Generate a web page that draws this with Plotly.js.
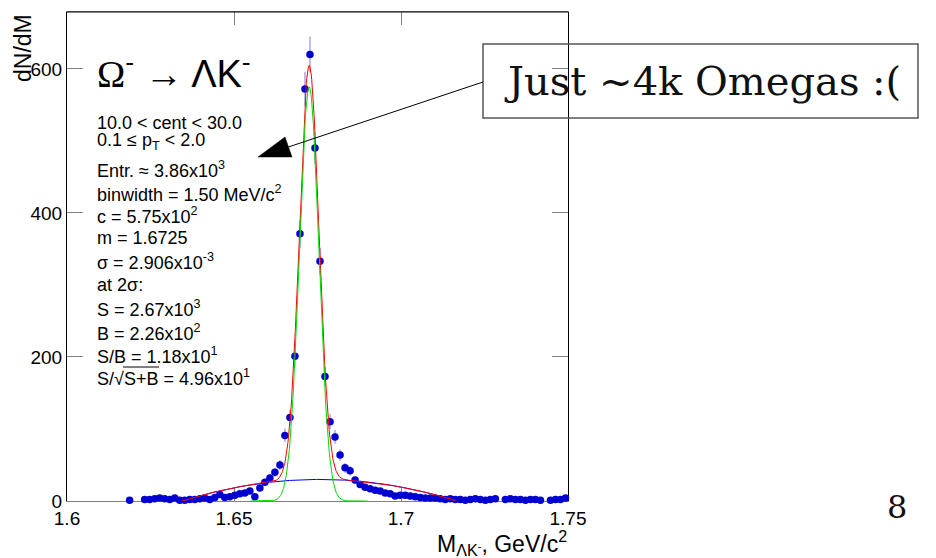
<!DOCTYPE html>
<html>
<head>
<meta charset="utf-8">
<script src="https://cdn.plot.ly/plotly-3.0.1.min.js"></script>
<style>html,body{margin:0;padding:0;background:#fff;}#chart{width:936px;height:558px;}</style>
</head>
<body>
<div id="chart"></div>
<script>
// ---- data: invariant mass histogram (bin centres, GeV/c^2) and counts ----
const massBins = [
  1.61875,
  1.62325,1.62475,1.62625,1.62775,1.62925,1.63075,1.63225,1.63375,1.63525,1.63675,
  1.63825,1.63975,1.64125,1.64275,1.64425,1.64575,1.64725,1.64875,1.65025,1.65175,
  1.65325,1.65475,1.65625,1.65775,1.65925,1.66075,1.66225,1.66375,1.66525,1.66675,
  1.66825,1.66975,1.67125,1.67275,1.67425,1.67575,1.67725,1.67875,1.68025,1.68175,
  1.68325,1.68475,1.68625,1.68775,1.68925,1.69075,1.69225,1.69375,1.69525,1.69675,
  1.69825,1.69975,1.70125,1.70275,1.70425,1.70575,1.70725,1.70875,1.71025,1.71175,
  1.71325,1.71475,1.71625,1.71775,1.71925,1.72075,1.72225,1.72375,1.72525,1.72675,
  1.72825,
  1.73125,1.73275,1.73425,1.73575,1.73725,1.73875,1.74025,1.74175,
  1.74475,1.74625,1.74775,1.74925
];
const counts = [
  1,
  2,2,3,4,3,2,4,1,1,2,
  2,3,4,2,5,9,5,6,8,10,
  11,14,6,18,26,32,40,50,91,116,
  201,371,572,620,490,333,173,110,89,64,
  46,42,29,23,19,17,15,14,11,10,
  7,8,8,7,6,5,4,4,4,3,
  2,3,2,2,1,2,3,2,1,2,
  3,
  2,3,2,2,1,2,2,1,
  1,2,2,4
];
// ---- fit results shown on the chart ----
const gausC = 575, gausM = 1.6725, gausSigma = 2.906e-3;
// background (pol2) estimated from the drawn blue curve
const bgAmp = 30, bgCentre = 1.6756, bgHalfWidth = 0.0411;

const xTickVals = [1.6, 1.65, 1.7, 1.75];
const xTickText = ['1.6', '1.65', '1.7', '1.75'];
const yTickVals = [0, 200, 400, 600];
const yTickText = ['0', '200', '400', '600'];

const titleText = "<span style=\"font-family:'Liberation Serif','DejaVu Serif',serif\">Ω</span><sup>-</sup> → ΛK<sup>-</sup>";
const statLines = [
  '10.0 &lt; cent &lt; 30.0',
  '0.1 ≤ p<sub>T</sub> &lt; 2.0',
  'Entr. ≈ 3.86x10<sup>3</sup>',
  'binwidth = 1.50 MeV/c<sup>2</sup>',
  'c = 5.75x10<sup>2</sup>',
  'm = 1.6725',
  'σ = 2.906x10<sup>-3</sup>',
  'at 2σ:',
  'S = 2.67x10<sup>3</sup>',
  'B = 2.26x10<sup>2</sup>',
  'S/B = 1.18x10<sup>1</sup>',
  'S/√S+B = 4.96x10<sup>1</sup>'
];
const noteText = 'Just ~4k Omegas :(';
const pageText = '8';
const xTitle = 'M<sub>ΛK<sup>-</sup></sub>, GeV/c<sup>2</sup>';
const yTitle = 'dN/dM';

// ---- fit curves evaluated from the fit parameters ----
function gaus(x){ const t=(x-gausM)/gausSigma; return gausC*Math.exp(-0.5*t*t); }
function bg(x){ const t=(x-bgCentre)/bgHalfWidth; return bgAmp*(1-t*t); }
const gx=[], gy=[];
for(let i=0;i<=300;i++){ const x=gausM-6*gausSigma+i*(12*gausSigma/300); gx.push(x); gy.push(gaus(x)); }
const bx=[], by=[], tyy=[];
const b0=bgCentre-bgHalfWidth, b1=bgCentre+bgHalfWidth;
for(let i=0;i<=600;i++){ const x=b0+i*(b1-b0)/600; bx.push(x); by.push(Math.max(0,bg(x))); tyy.push(Math.max(0,bg(x))+gaus(x)); }

// ---- pixel -> paper helpers for decorations ----
const L=67, R=568, T=12, B=501;
const px = x => (x-L)/(R-L);
const py = y => (B-y)/(B-T);

const FONT='Liberation Sans, Arial, sans-serif';

const traces = [
  {type:'scatter', mode:'markers', x:massBins, y:counts, cliponaxis:false,
   marker:{color:'#0000d0', size:7.5},
   error_y:{type:'sqrt', visible:true, color:'rgba(110,110,235,0.75)', thickness:1.2, width:0},
   hoverinfo:'skip'},
  {type:'scatter', mode:'lines', x:bx, y:by, line:{color:'#0000ff', width:1}, hoverinfo:'skip'},
  {type:'scatter', mode:'lines', x:bx, y:tyy, line:{color:'#ff0000', width:1}, hoverinfo:'skip'},
  {type:'scatter', mode:'lines', x:gx, y:gy, line:{color:'#00dd00', width:1}, hoverinfo:'skip'}
];

const statY = [122.7,141.7,169,193,215,238,261.7,285,308,332.7,355,377.7];
const annotations = [];
annotations.push({xref:'paper', yref:'paper', x:px(95), y:py(71), xanchor:'left', yanchor:'middle',
  text:titleText, showarrow:false, font:{family:FONT, size:38, color:'#000'}});
statLines.forEach((t,i)=>annotations.push({xref:'paper', yref:'paper', x:px(95), y:py(statY[i]),
  xanchor:'left', yanchor:'middle', text:t, showarrow:false, font:{family:FONT, size:18, color:'#000'}}));
annotations.push({xref:'paper', yref:'paper', x:px(702), y:py(81), xanchor:'center', yanchor:'middle',
  text:noteText, showarrow:false, font:{family:'DejaVu Serif, serif', size:40, color:'#111'}});
annotations.push({xref:'paper', yref:'paper', x:px(897), y:py(507), xanchor:'center', yanchor:'middle',
  text:pageText, showarrow:false, font:{family:'DejaVu Serif, serif', size:32, color:'#111'}});
annotations.push({xref:'paper', yref:'paper', x:px(569), y:py(543), xanchor:'right', yanchor:'middle',
  text:xTitle, showarrow:false, font:{family:FONT, size:23, color:'#000'}});
annotations.push({xref:'paper', yref:'paper', x:px(23), y:py(12), xanchor:'center', yanchor:'top',
  text:yTitle, textangle:-90, showarrow:false, font:{family:FONT, size:23, color:'#000'}});

const tip=[258,157], b1c=[285,137], b2c=[292,157], start=[483,82], base=[288.4,147];
const shapes = [
  {type:'line', xref:'paper', yref:'paper', x0:0, x1:1, y0:1, y1:1, line:{color:'#000', width:1}, layer:'above'},
  {type:'rect', xref:'paper', yref:'paper', x0:px(483), x1:px(918), y0:py(44), y1:py(118), line:{color:'#555', width:1.5}, fillcolor:'rgba(0,0,0,0)', layer:'above'},
  {type:'line', xref:'paper', yref:'paper', x0:px(start[0]), y0:py(start[1]), x1:px(base[0]), y1:py(base[1]), line:{color:'#000', width:1}, layer:'above'},
  {type:'path', xref:'paper', yref:'paper', layer:'above', fillcolor:'#000', line:{color:'#000', width:0.5},
   path:'M'+px(tip[0])+','+py(tip[1])+' L'+px(b1c[0])+','+py(b1c[1])+' L'+px(b2c[0])+','+py(b2c[1])+' Z'},
  {type:'line', xref:'paper', yref:'paper', x0:px(123), x1:px(159), y0:py(367), y1:py(367), line:{color:'#000', width:1}, layer:'above'}
];

const layout = {
  width:936, height:558, margin:{l:L, r:936-R, t:T, b:558-B, pad:0},
  paper_bgcolor:'#fff', plot_bgcolor:'#fff', showlegend:false,
  font:{family:FONT, color:'#000'},
  xaxis:{range:[1.6,1.75], tickvals:xTickVals, ticktext:xTickText, ticks:'inside', ticklen:13, tickwidth:1,
    tickcolor:'#808080', showline:true, linecolor:'#808080', linewidth:1, mirror:'ticks', showgrid:false, zeroline:false,
    tickfont:{family:FONT, size:19, color:'#000'}, layer:'below traces', fixedrange:true},
  yaxis:{range:[0,679], tickvals:yTickVals, ticktext:yTickText, ticks:'inside', ticklen:16, tickwidth:1,
    tickcolor:'#808080', showline:true, linecolor:'#000', linewidth:1, mirror:'ticks', showgrid:false, zeroline:false,
    tickfont:{family:FONT, size:19, color:'#000'}, layer:'below traces', fixedrange:true},
  annotations:annotations, shapes:shapes
};
Plotly.newPlot('chart', traces, layout, {staticPlot:true, displayModeBar:false});
</script>
</body>
</html>
